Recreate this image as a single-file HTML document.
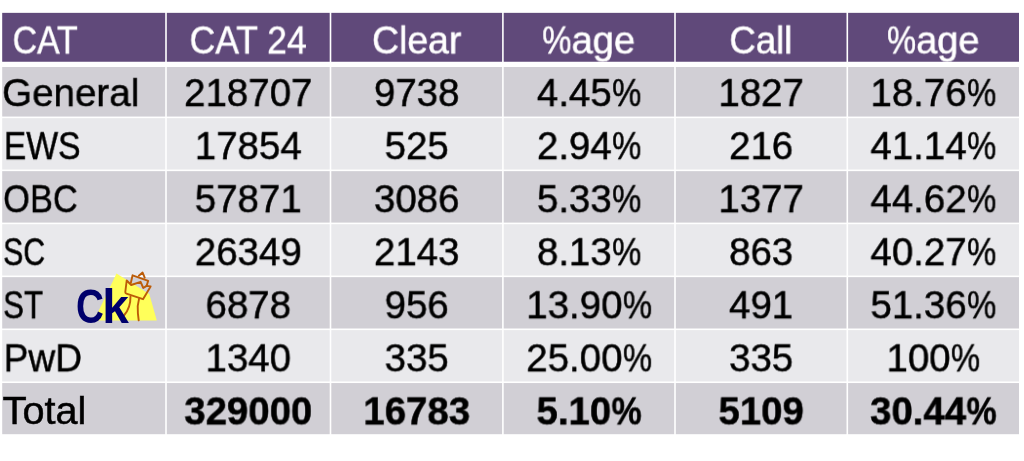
<!DOCTYPE html>
<html lang="en"><head><meta charset="utf-8"><title>CAT 24</title>
<style>
html,body{margin:0;padding:0;background:#fff;}
body{width:1024px;height:461px;position:relative;overflow:hidden;font-family:"Liberation Sans",sans-serif;font-size:39.4px;color:#000;}
svg.bg{position:absolute;left:0;top:0;}
#w{position:absolute;left:0;top:0;width:1024px;height:461px;filter:blur(0.6px);}
.r{position:absolute;left:0;top:0;width:1024px;height:0;}
.r span{-webkit-text-stroke:0.5px currentColor;position:absolute;left:0;top:0;display:block;line-height:1;white-space:nowrap;transform-origin:0 0;will-change:transform;}
.r i{display:inline-block;font-style:normal;transform-origin:0 50%;}
.h{color:#fff;}
.t span+span{font-weight:bold;}
</style></head><body><div id="w">

<svg class="bg" width="1024" height="461" viewBox="0 0 1024 461">
<rect x="2.20" y="12.85" width="1016.80" height="48.90" fill="#60497a"/>
<rect x="2.20" y="67.00" width="1016.80" height="49.55" fill="#d1cfd5"/>
<rect x="2.20" y="118.15" width="1016.80" height="51.40" fill="#e9e9ec"/>
<rect x="2.20" y="171.15" width="1016.80" height="51.45" fill="#d1cfd5"/>
<rect x="2.20" y="224.20" width="1016.80" height="51.35" fill="#e9e9ec"/>
<rect x="2.20" y="277.15" width="1016.80" height="51.35" fill="#d1cfd5"/>
<rect x="2.20" y="330.10" width="1016.80" height="51.35" fill="#e9e9ec"/>
<rect x="2.20" y="383.05" width="1016.80" height="51.15" fill="#d1cfd5"/>
<rect x="165.20" y="11.85" width="1.60" height="423.35" fill="#fff"/>
<rect x="329.70" y="11.85" width="1.60" height="423.35" fill="#fff"/>
<rect x="502.10" y="11.85" width="1.60" height="423.35" fill="#fff"/>
<rect x="674.20" y="11.85" width="1.60" height="423.35" fill="#fff"/>
<rect x="846.50" y="11.85" width="1.60" height="423.35" fill="#fff"/>
</svg>
<div class="r h">
<span style="transform:translate(12.57px,20.45px) scaleX(0.8595)">CAT</span>
<span style="transform:translate(189.55px,20.45px) scaleX(0.9025)">CAT 24</span>
<span style="transform:translate(371.97px,20.45px) scaleX(0.9503)">Clear</span>
<span style="transform:translate(542.22px,20.45px) scaleX(0.9691)"><i style="transform:scaleX(0.860);margin-right:-4.90px">%</i>age</span>
<span style="transform:translate(729.41px,20.45px) scaleX(0.9276)">Call</span>
<span style="transform:translate(887.03px,20.45px) scaleX(0.9638)"><i style="transform:scaleX(0.860);margin-right:-4.90px">%</i>age</span>
</div>
<div class="r">
<span style="transform:translate(2.13px,73.10px) scaleX(0.9784)">General</span>
<span style="transform:translate(184.10px,73.10px) scaleX(0.9760)">218707</span>
<span style="transform:translate(373.93px,73.10px) scaleX(0.9760)">9738</span>
<span style="transform:translate(536.92px,73.10px) scaleX(0.9760)">4.45<i style="transform:scaleX(0.855);margin-right:-5.08px">%</i></span>
<span style="transform:translate(718.38px,73.10px) scaleX(0.9760)">1827</span>
<span style="transform:translate(870.43px,73.10px) scaleX(0.9760)">18.76<i style="transform:scaleX(0.855);margin-right:-5.08px">%</i></span>
</div>
<div class="r">
<span style="transform:translate(3.82px,126.15px) scaleX(0.8547)">EWS</span>
<span style="transform:translate(194.79px,126.15px) scaleX(0.9760)">17854</span>
<span style="transform:translate(384.62px,126.15px) scaleX(0.9760)">525</span>
<span style="transform:translate(536.92px,126.15px) scaleX(0.9760)">2.94<i style="transform:scaleX(0.855);margin-right:-5.08px">%</i></span>
<span style="transform:translate(729.07px,126.15px) scaleX(0.9760)">216</span>
<span style="transform:translate(870.43px,126.15px) scaleX(0.9760)">41.14<i style="transform:scaleX(0.855);margin-right:-5.08px">%</i></span>
</div>
<div class="r">
<span style="transform:translate(3.17px,179.20px) scaleX(0.8723)">OBC</span>
<span style="transform:translate(194.79px,179.20px) scaleX(0.9760)">57871</span>
<span style="transform:translate(373.93px,179.20px) scaleX(0.9760)">3086</span>
<span style="transform:translate(536.92px,179.20px) scaleX(0.9760)">5.33<i style="transform:scaleX(0.855);margin-right:-5.08px">%</i></span>
<span style="transform:translate(718.38px,179.20px) scaleX(0.9760)">1377</span>
<span style="transform:translate(870.43px,179.20px) scaleX(0.9760)">44.62<i style="transform:scaleX(0.855);margin-right:-5.08px">%</i></span>
</div>
<div class="r">
<span style="transform:translate(3.10px,232.25px) scaleX(0.7676)">SC</span>
<span style="transform:translate(194.79px,232.25px) scaleX(0.9760)">26349</span>
<span style="transform:translate(373.93px,232.25px) scaleX(0.9760)">2143</span>
<span style="transform:translate(536.92px,232.25px) scaleX(0.9760)">8.13<i style="transform:scaleX(0.855);margin-right:-5.08px">%</i></span>
<span style="transform:translate(729.07px,232.25px) scaleX(0.9760)">863</span>
<span style="transform:translate(870.43px,232.25px) scaleX(0.9760)">40.27<i style="transform:scaleX(0.855);margin-right:-5.08px">%</i></span>
</div>
<div class="r">
<span style="transform:translate(3.07px,285.30px) scaleX(0.7938)">ST</span>
<span style="transform:translate(205.48px,285.30px) scaleX(0.9760)">6878</span>
<span style="transform:translate(384.62px,285.30px) scaleX(0.9760)">956</span>
<span style="transform:translate(526.23px,285.30px) scaleX(0.9760)">13.90<i style="transform:scaleX(0.855);margin-right:-5.08px">%</i></span>
<span style="transform:translate(729.07px,285.30px) scaleX(0.9760)">491</span>
<span style="transform:translate(870.43px,285.30px) scaleX(0.9760)">51.36<i style="transform:scaleX(0.855);margin-right:-5.08px">%</i></span>
</div>
<div class="r">
<span style="transform:translate(3.60px,338.35px) scaleX(0.9426)">PwD</span>
<span style="transform:translate(205.48px,338.35px) scaleX(0.9760)">1340</span>
<span style="transform:translate(384.62px,338.35px) scaleX(0.9760)">335</span>
<span style="transform:translate(526.23px,338.35px) scaleX(0.9760)">25.00<i style="transform:scaleX(0.855);margin-right:-5.08px">%</i></span>
<span style="transform:translate(729.07px,338.35px) scaleX(0.9760)">335</span>
<span style="transform:translate(886.45px,338.35px) scaleX(0.9760)">100<i style="transform:scaleX(0.855);margin-right:-5.08px">%</i></span>
</div>
<div class="r t">
<span style="transform:translate(2.60px,391.40px) scaleX(1.0068)">Total</span>
<span style="transform:translate(184.23px,391.40px) scaleX(0.9740)">329000</span>
<span style="transform:translate(363.35px,391.40px) scaleX(0.9740)">16783</span>
<span style="transform:translate(536.51px,391.40px) scaleX(0.9740)">5.10<i style="transform:scaleX(0.885);margin-right:-4.03px">%</i></span>
<span style="transform:translate(718.47px,391.40px) scaleX(0.9740)">5109</span>
<span style="transform:translate(870.04px,391.40px) scaleX(0.9740)">30.44<i style="transform:scaleX(0.885);margin-right:-4.03px">%</i></span>
</div>
<svg style="position:absolute;left:70px;top:262px;overflow:visible" width="100" height="68" viewBox="70 262 100 68">
<polygon points="116.5,273.5 149.3,293.9 156.8,320.5 94,320.5" fill="#ffff5a"/>
<g fill="none" stroke="#bc5c08" stroke-width="1.9" stroke-linejoin="round" stroke-linecap="round">
<path d="M126.7,280.5 L125.3,292 Q125.2,293.2 126.4,293.6 L143,299.2 L150.6,286.4 L146.6,285.9 L143.3,288 L140.6,281.8 L131.2,285 Z"/>
<path d="M130.8,283 L132.6,275.3 L148.2,280.8 L146.6,285.9"/>
<path d="M138.8,275.8 L142.6,272.5 L144.7,277.7" />
<path d="M130.5,296.6 Q130.6,308 124.3,315"/>
<path d="M139.1,298.6 Q137,306 137.9,313.4 L138.7,320.3"/>
</g>
<g font-family="'Liberation Sans',sans-serif" font-weight="bold" font-size="46" fill="#00006c">
<text transform="translate(76.1,323) scale(0.84,1.045)">C</text>
<text transform="translate(102.2,322.7) scale(1.04,1.065)">k</text>
</g>
</svg>

</div></body></html>
